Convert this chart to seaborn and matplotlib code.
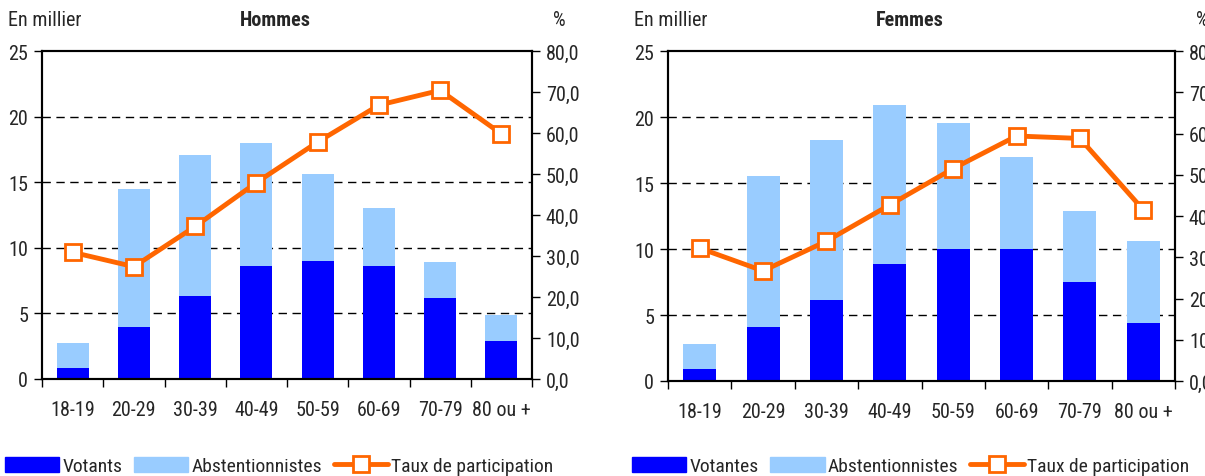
import numpy as np
import pandas as pd
import seaborn as sns
import matplotlib.pyplot as plt
from matplotlib import font_manager
from matplotlib.patches import Patch
from matplotlib.lines import Line2D
from matplotlib.ticker import FixedLocator, NullFormatter

# Data (thousands of people, participation rate in %)
ages = ['18-19', '20-29', '30-39', '40-49', '50-59', '60-69', '70-79', '80 ou +']

hommes_total = [2.75, 14.5, 17.1, 18.0, 15.6, 13.0, 8.9, 4.85]
hommes_votants = [0.85, 3.95, 6.3, 8.6, 9.0, 8.65, 6.2, 2.9]
hommes_taux = [30.9, 27.4, 37.2, 47.9, 57.8, 66.8, 70.4, 59.8]

femmes_total = [2.8, 15.5, 18.25, 20.9, 19.55, 16.95, 12.9, 10.6]
femmes_votantes = [0.9, 4.1, 6.15, 8.85, 10.0, 10.0, 7.5, 4.4]
femmes_taux = [32.2, 26.7, 33.9, 42.7, 51.5, 59.4, 58.8, 41.5]

DARK = '#0000FF'
LIGHT = '#99CCFF'
ORANGE = '#FF6600'

# pick a narrow face, the original uses a condensed font
installed = {f.name for f in font_manager.fontManager.ttflist}
narrow = [n for n in ['Roboto Condensed', 'Liberation Sans Narrow', 'Arial Narrow',
                      'Archivo Narrow', 'PT Sans Narrow', 'Pragati Narrow',
                      'Open Sans Condensed'] if n in installed]

sns.set_style('white')
plt.rcParams['font.family'] = narrow[:1] + ['DejaVu Sans']
FS = 14.5
plt.rcParams['font.size'] = FS

W, H = 1205, 477
fig = plt.figure(figsize=(W / 100, H / 100), dpi=100)


def panel(rect, total, votes, taux, title, vote_label, px):
    ax = fig.add_axes(rect)
    df = pd.DataFrame({'age': ages, 'total': total, 'votes': votes})
    sns.barplot(data=df, x='age', y='total', color=LIGHT, width=0.52,
                saturation=1, linewidth=0, ax=ax)
    sns.barplot(data=df, x='age', y='votes', color=DARK, width=0.52,
                saturation=1, linewidth=0, ax=ax)
    ax.set_xlim(-0.5, len(ages) - 0.5)
    ax.set_ylim(0, 25)
    ax.set_yticks([0, 5, 10, 15, 20, 25])
    ax.set_xlabel('')
    ax.set_ylabel('')
    for y in [5, 10, 15, 20]:
        ax.axhline(y, color='black', lw=1, ls=(0, (6, 4)), zorder=0.5)

    # ticks at category boundaries, labels at centres
    ax.xaxis.set_major_locator(FixedLocator(np.arange(len(ages) + 1) - 0.5))
    ax.xaxis.set_major_formatter(NullFormatter())
    ax.xaxis.set_minor_locator(FixedLocator(np.arange(len(ages))))
    ax.set_xticklabels(ages, minor=True)
    ax.tick_params(axis='x', which='major', direction='out', length=6,
                   width=1, color='black', bottom=True)
    ax.tick_params(axis='x', which='minor', length=0, pad=15, labelsize=FS)
    ax.tick_params(axis='y', direction='out', length=6, width=1,
                   color='black', left=True, pad=4, labelsize=FS)
    for s in ax.spines.values():
        s.set_color('black')
        s.set_linewidth(1.5)

    ax2 = ax.twinx()
    ax2.plot(np.arange(len(ages)), taux, color=ORANGE, lw=3.5,
             marker='s', ms=11, mfc='white', mec=ORANGE, mew=2, zorder=5)
    ax2.set_ylim(0, 80)
    ax2.set_yticks(np.arange(0, 81, 10))
    ax2.set_yticklabels([f'{v:.1f}'.replace('.', ',') for v in np.arange(0, 81, 10)])
    ax2.tick_params(axis='y', direction='out', length=6, width=1,
                    color='black', right=True, pad=4, labelsize=FS)
    for s in ax2.spines.values():
        s.set_color('black')
        s.set_linewidth(1.5)

    x0 = rect[0] * W
    x1 = (rect[0] + rect[2]) * W
    ytxt = 1 - 21 / H
    fig.text((x0 - 34) / W, ytxt, 'En millier', ha='left', va='center', fontsize=FS)
    fig.text((x0 + x1) / 2 / W - 0.01, ytxt, title, ha='center', va='center',
             fontsize=FS, fontweight='bold')
    fig.text((x1 + 21) / W, ytxt, '%', ha='left', va='center', fontsize=FS)

    handles = [Patch(color=DARK), Patch(color=LIGHT),
               Line2D([], [], color=ORANGE, lw=3.5, marker='s', ms=11,
                      mfc='white', mec=ORANGE, mew=2)]
    fig.legend(handles, [vote_label, 'Abstentionnistes', 'Taux de participation'],
               loc='center left', bbox_to_anchor=(px / W, 1 - 467 / H),
               ncol=3, frameon=False, fontsize=14, handlelength=2.8,
               handleheight=0.8, handletextpad=0.15, columnspacing=0.6,
               borderaxespad=0, borderpad=0)


panel([42 / W, (H - 380) / H, 490 / W, 328 / H],
      hommes_total, hommes_votants, hommes_taux, 'Hommes', 'Votants', 5)
panel([668 / W, (H - 382) / H, 507 / W, 330 / H],
      femmes_total, femmes_votantes, femmes_taux, 'Femmes', 'Votantes', 632)

fig.savefig('out.png', dpi=100)
